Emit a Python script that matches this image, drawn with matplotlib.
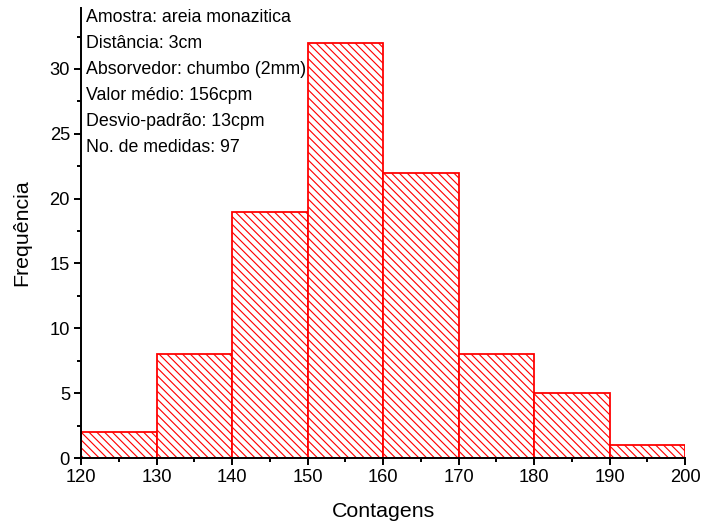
import numpy as np
import matplotlib
matplotlib.use("Agg")
import matplotlib.pyplot as pl
from matplotlib.ticker import MultipleLocator

# histogram of counts per minute, bins of 10 cpm
bin_edges = [120, 130, 140, 150, 160, 170, 180, 190, 200]
frequencies = [2, 8, 19, 32, 22, 8, 5, 1]
info_lines = ["Amostra: areia monazitica",
              "Distância: 3cm",
              "Absorvedor: chumbo (2mm)",
              "Valor médio: 156cpm",
              "Desvio-padrão: 13cpm",
              "No. de medidas: 97"]

DPI = 117
pl.rcParams['font.family'] = ['Liberation Sans', 'DejaVu Sans']
pl.rcParams['hatch.color'] = 'red'
pl.rcParams['hatch.linewidth'] = 0.7

fig = pl.figure(figsize=(702 / DPI, 527 / DPI), dpi=DPI)
ax = fig.add_axes([0.1154, 0.1309, 0.8604, 0.8539])

lefts = np.array(bin_edges[:-1])
widths = np.diff(bin_edges)
ax.bar(lefts, frequencies, width=widths, align='edge', facecolor='white',
       edgecolor='red', linewidth=1.1, hatch='\\' * 5)

ax.set_xlim(120, 200)
ax.set_ylim(0, 34.7)
ax.xaxis.set_major_locator(MultipleLocator(10))
ax.xaxis.set_minor_locator(MultipleLocator(5))
ax.yaxis.set_major_locator(MultipleLocator(5))
ax.yaxis.set_minor_locator(MultipleLocator(2.5))
for side in ['top', 'right']:
    ax.spines[side].set_visible(False)
for side in ['left', 'bottom']:
    ax.spines[side].set_linewidth(1.2)
ax.tick_params(which='major', direction='out', length=4.3, width=1.2,
               labelsize=11.3, pad=2.5)
ax.tick_params(which='minor', direction='out', length=2.6, width=1.2)

ax.set_xlabel("Contagens", fontsize=13.2, labelpad=10)
ax.set_ylabel("Frequência", fontsize=13.2, labelpad=11)

ax.text(0.008, 0.997, "\n".join(info_lines), transform=ax.transAxes,
        va='top', ha='left', fontsize=10.9, linespacing=1.68)

fig.savefig("out.png", dpi=DPI)
